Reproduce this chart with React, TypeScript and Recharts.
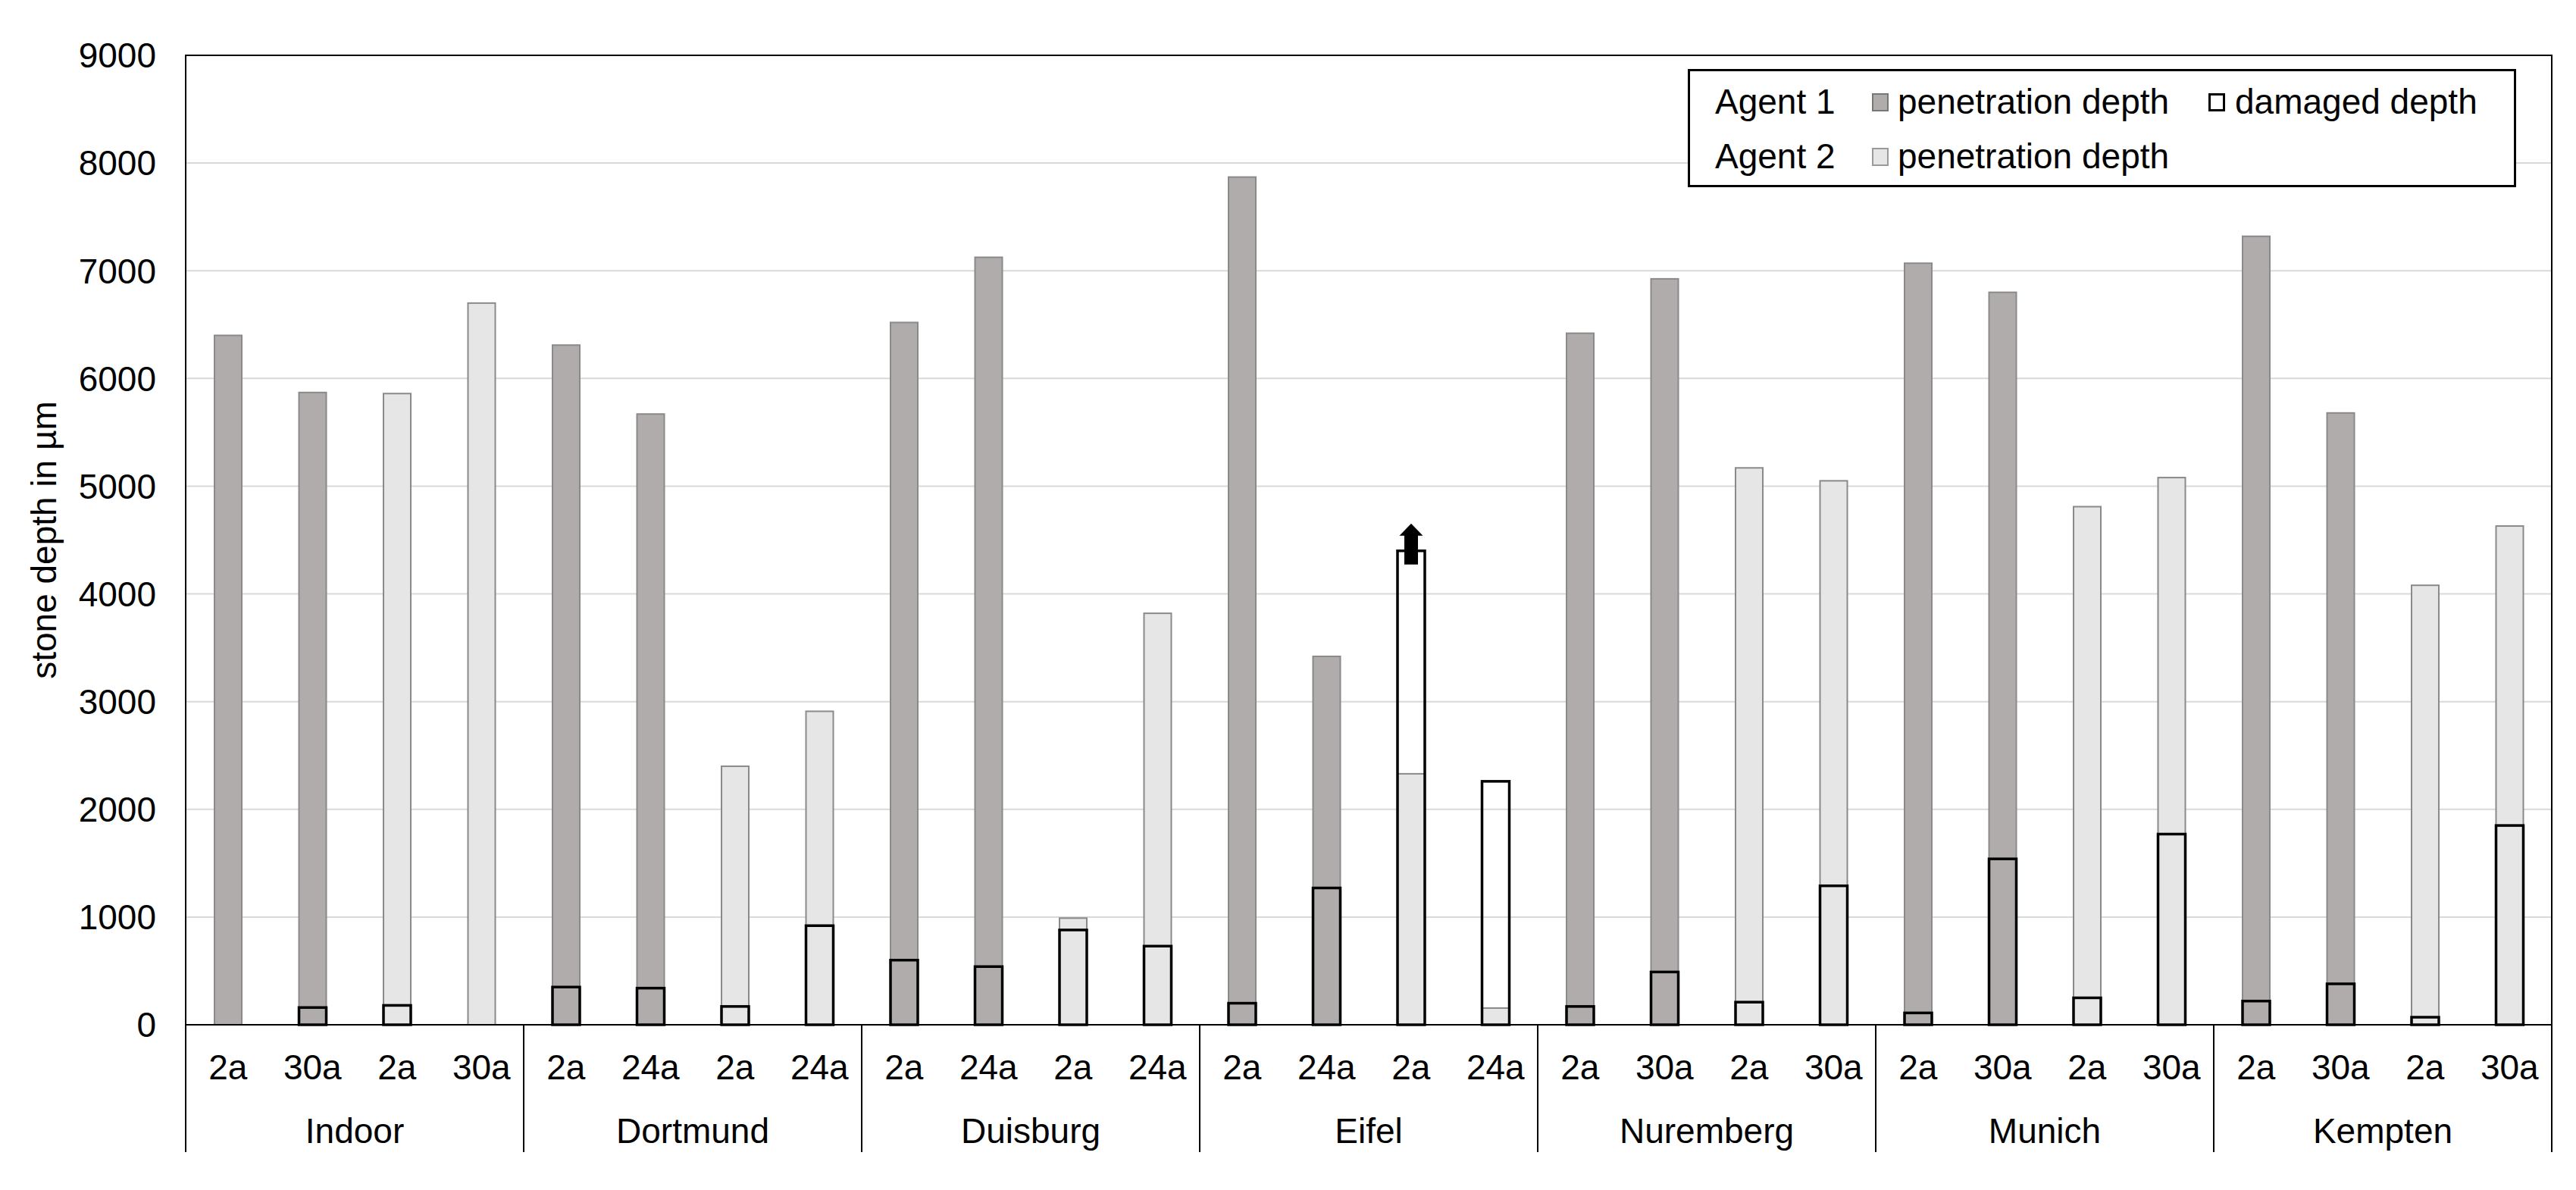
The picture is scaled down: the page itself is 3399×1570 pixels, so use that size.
import { Bar, BarChart, CartesianGrid, ReferenceArea, XAxis, YAxis } from 'recharts';

const sites = ['Indoor', 'Dortmund', 'Duisburg', 'Eifel', 'Nuremberg', 'Munich', 'Kempten'];
const ages = [
  ['2a', '30a'],
  ['2a', '24a'],
  ['2a', '24a'],
  ['2a', '24a'],
  ['2a', '30a'],
  ['2a', '30a'],
  ['2a', '30a'],
];

// penetration / damaged depth in µm, per site: [first age, second age]
const agent1Penetration = [[6400, 5870], [6310, 5670], [6520, 7125], [7870, 3420], [6420, 6925], [7070, 6800], [7320, 5680]];
const agent1Damaged = [[null, 160], [350, 340], [600, 540], [200, 1270], [170, 490], [110, 1540], [220, 380]];
const agent2Penetration = [[5860, 6700], [2400, 2910], [990, 3820], [2330, 155], [5170, 5050], [4810, 5080], [4080, 4630]];
const agent2Damaged = [[180, null], [170, 920], [880, 730], [4400, 2260], [210, 1290], [250, 1770], [70, 1850]];
// damaged depth goes deeper than measured
const openEnded = ['Eifel-2-0'];

const yTicks = [0, 1000, 2000, 3000, 4000, 5000, 6000, 7000, 8000, 9000];

const rows = sites.flatMap((site, s) =>
  [1, 2].flatMap((agent) =>
    ages[s].map((age, j) => {
      const key = `${site}-${agent}-${j}`;
      return {
        key,
        site,
        age,
        agent1: agent === 1 ? agent1Penetration[s][j] : null,
        agent2: agent === 2 ? agent2Penetration[s][j] : null,
        damaged: agent === 1 ? agent1Damaged[s][j] : agent2Damaged[s][j],
        open: openEnded.includes(key),
      };
    }),
  ),
);

const ageByKey: Record<string, string> = Object.fromEntries(rows.map((r) => [r.key, r.age]));

const FONT = '"Liberation Sans", Arial, sans-serif';
const DARK = '#b0acab';
const LIGHT = '#e6e6e6';

const penetrationShape = (fill: string) => (props: any) => {
  const { x, y, width, height } = props;
  if (!height || height <= 0) return null;
  return <rect x={x} y={y} width={width} height={height} fill={fill} stroke="#8a8a8a" strokeWidth={2} />;
};

const DamagedShape = (props: any) => {
  const { x, y, width, height, payload } = props;
  if (!height || height <= 0) return null;
  const cx = x + width / 2;
  return (
    <g>
      <rect x={x} y={y} width={width} height={height} fill="none" stroke="#000" strokeWidth={3.5} />
      {payload?.open && (
        <polygon
          fill="#000"
          points={`${cx},${y - 36} ${cx + 15.5},${y - 20} ${cx + 9},${y - 20} ${cx + 9},${y + 18} ${cx - 9},${y + 18} ${cx - 9},${y - 20} ${cx - 15.5},${y - 20}`}
        />
      )}
    </g>
  );
};

const GroupTick = (props: any) => {
  const { x, y, payload, index } = props;
  const half = payload?.offset ?? 3122 / sites.length / 2;
  return (
    <g>
      <line x1={x - half} x2={x - half} y1={y - 100} y2={y + 68} stroke="#000" strokeWidth={2} />
      {index === sites.length - 1 && (
        <line x1={x + half} x2={x + half} y1={y - 100} y2={y + 68} stroke="#000" strokeWidth={2} />
      )}
      <text x={x} y={y + 40} textAnchor="middle" dominantBaseline="central" fontSize={46} fontFamily={FONT} fill="#000">
        {payload.value}
      </text>
    </g>
  );
};

const swatch = (left: number, top: number, bg: string, border: string, bw: number) => (
  <div
    style={{
      position: 'absolute',
      left,
      top,
      width: 22,
      height: 24,
      boxSizing: 'border-box',
      background: bg,
      border: `${bw}px solid ${border}`,
    }}
  />
);

const legendText = (left: number, center: number, text: string) => (
  <div
    style={{
      position: 'absolute',
      left,
      top: center - 30,
      height: 60,
      lineHeight: '60px',
      fontSize: 46,
      whiteSpace: 'nowrap',
    }}
  >
    {text}
  </div>
);

function ChartLegend() {
  return (
    <div
      style={{
        position: 'absolute',
        left: 2227,
        top: 91,
        width: 1093,
        height: 156,
        boxSizing: 'border-box',
        border: '3px solid #000',
        background: '#fff',
        fontFamily: FONT,
        color: '#000',
      }}
    >
      {legendText(33, 40, 'Agent 1')}
      {swatch(240, 29, DARK, '#777', 2)}
      {legendText(274, 40, 'penetration depth')}
      {swatch(684, 29, '#fff', '#000', 3)}
      {legendText(719, 40, 'damaged depth')}
      {legendText(33, 112, 'Agent 2')}
      {swatch(240, 101, LIGHT, '#999', 2)}
      {legendText(274, 112, 'penetration depth')}
    </div>
  );
}

export default function App() {
  return (
    <div style={{ position: 'absolute', left: 0, top: 0, width: 3399, height: 1570, background: '#fff', fontFamily: FONT }}>
      <BarChart
        width={3399}
        height={1570}
        data={rows}
        margin={{ top: 73, right: 32, bottom: 48, left: 0 }}
        barSize={36}
        barGap={-36}
      >
        <CartesianGrid vertical={false} stroke="#d9d9d9" strokeWidth={2} />
        <XAxis
          dataKey="key"
          interval={0}
          height={100}
          tickSize={0}
          tickMargin={39}
          tickLine={false}
          axisLine={{ stroke: '#000', strokeWidth: 2 }}
          tickFormatter={(v: string) => ageByKey[v]}
          tick={{ fill: '#000', fontSize: 46, fontFamily: FONT }}
        />
        <XAxis
          xAxisId="group"
          dataKey="site"
          allowDuplicatedCategory={false}
          interval={0}
          height={70}
          tickSize={0}
          tickMargin={0}
          tickLine={false}
          axisLine={false}
          tick={<GroupTick />}
        />
        <YAxis
          domain={[0, 9000]}
          ticks={yTicks}
          width={245}
          tickSize={0}
          tickMargin={39}
          tickLine={false}
          axisLine={{ stroke: '#000', strokeWidth: 2 }}
          tick={{ fill: '#000', fontSize: 46, fontFamily: FONT }}
          label={{
            value: 'stone depth in µm',
            angle: -90,
            position: 'insideLeft',
            offset: 58,
            fontSize: 46,
            fill: '#000',
            style: { textAnchor: 'middle', fontSize: 46, fontFamily: FONT, fill: '#000' },
          }}
        />
        <Bar dataKey="agent1" name="Agent 1 penetration depth" fill={DARK} shape={penetrationShape(DARK)} isAnimationActive={false} />
        <Bar dataKey="agent2" name="Agent 2 penetration depth" fill={LIGHT} shape={penetrationShape(LIGHT)} isAnimationActive={false} />
        <Bar dataKey="damaged" name="damaged depth" fill="none" shape={DamagedShape} isAnimationActive={false} />
        {/* plot area frame */}
        <ReferenceArea y1={0} y2={9000} fill="none" fillOpacity={0} stroke="#000" strokeWidth={2} />
      </BarChart>
      <ChartLegend />
    </div>
  );
}
